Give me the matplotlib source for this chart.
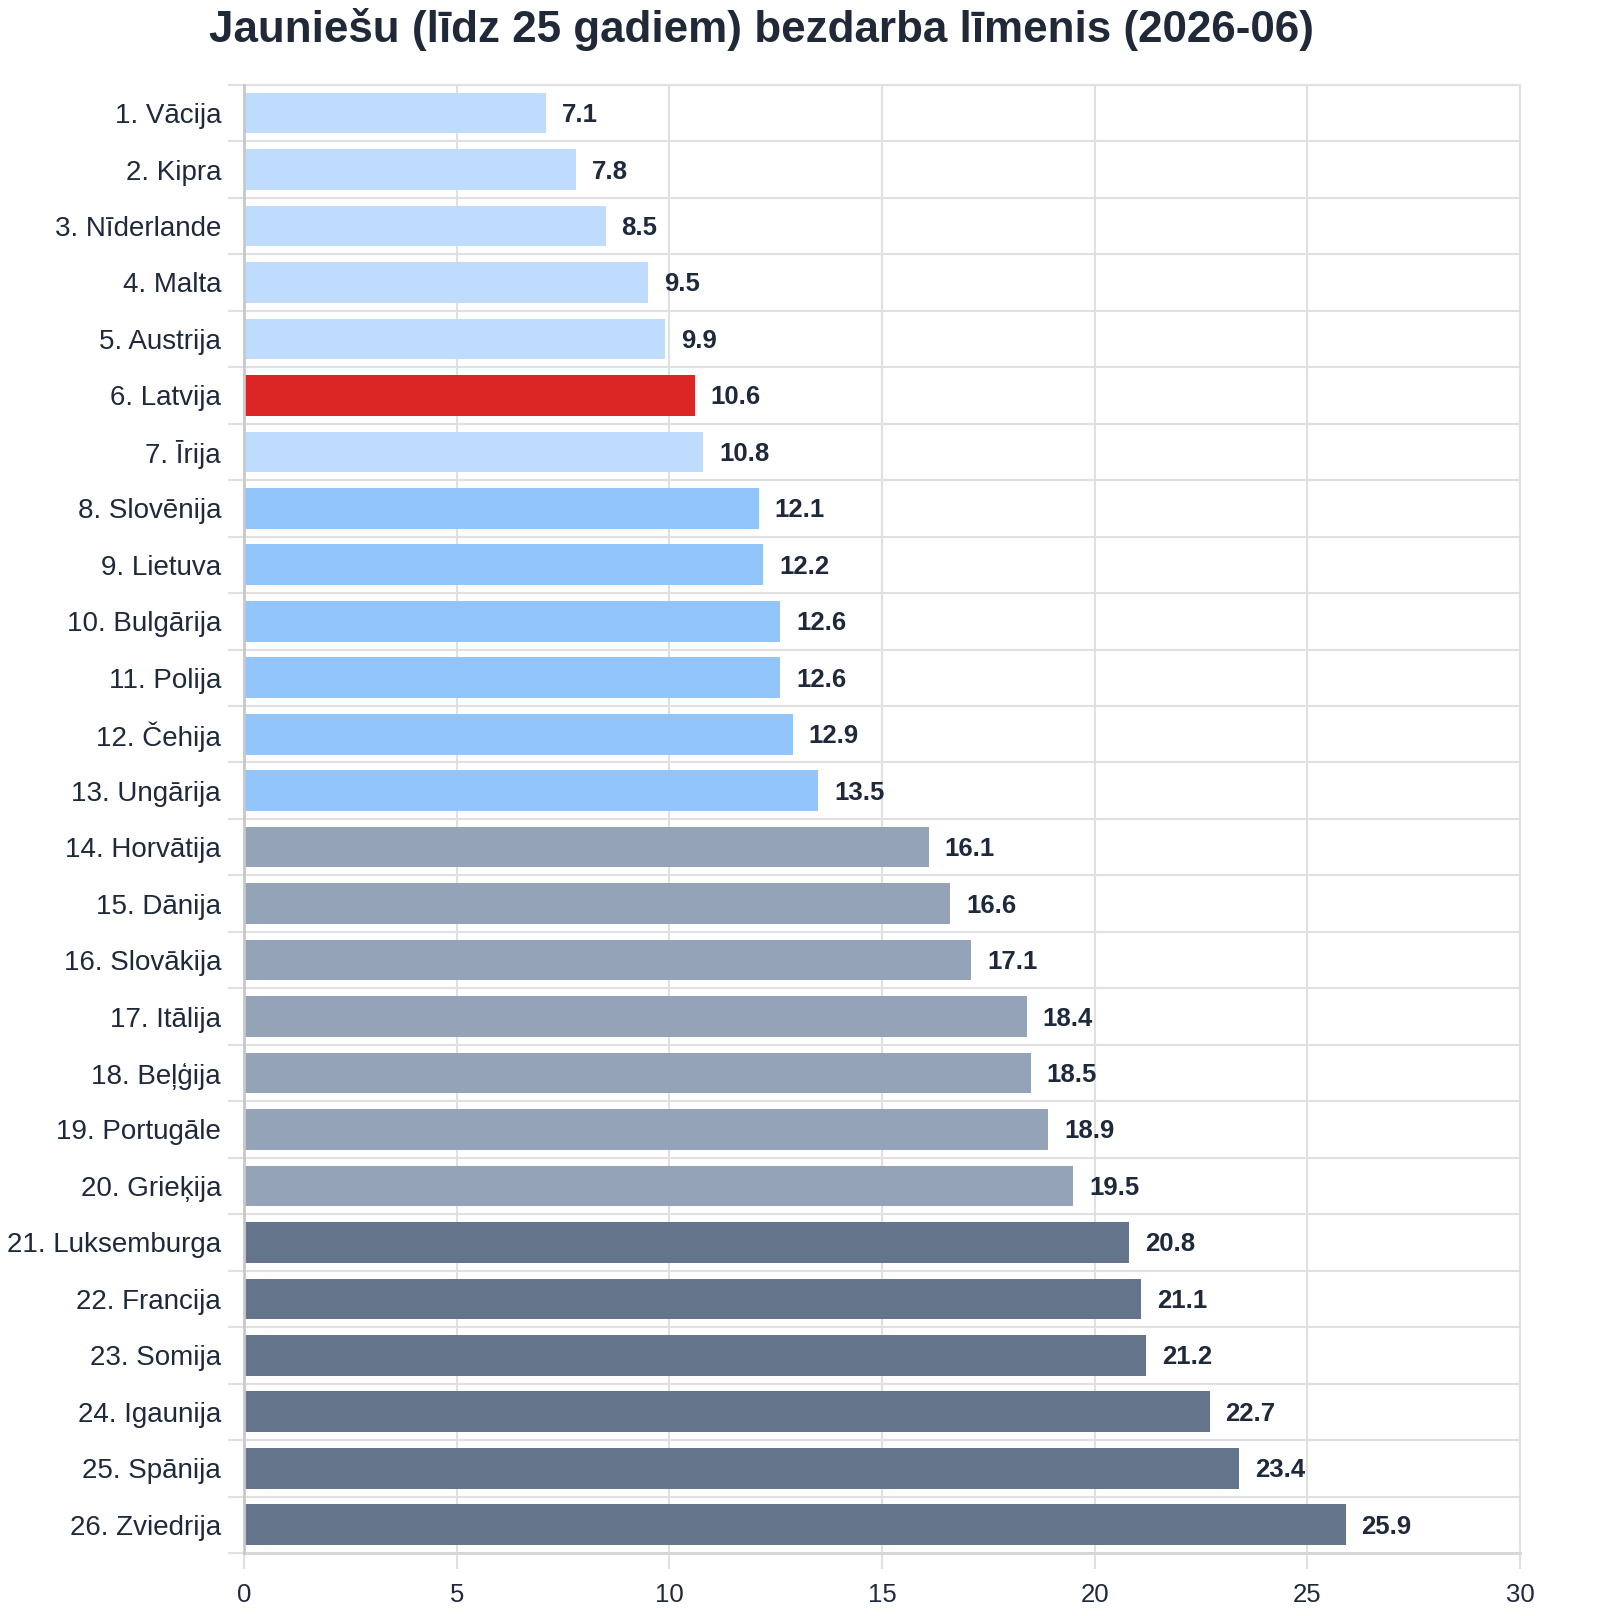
import numpy as np
from matplotlib import pyplot as plt

countries = [
    'Vācija', 'Kipra', 'Nīderlande', 'Malta', 'Austrija', 'Latvija', 'Īrija',
    'Slovēnija', 'Lietuva', 'Bulgārija', 'Polija', 'Čehija', 'Ungārija',
    'Horvātija', 'Dānija', 'Slovākija', 'Itālija', 'Beļģija', 'Portugāle',
    'Grieķija', 'Luksemburga', 'Francija', 'Somija', 'Igaunija', 'Spānija',
    'Zviedrija',
]
rates = [
    7.1, 7.8, 8.5, 9.5, 9.9, 10.6, 10.8, 12.1, 12.2, 12.6, 12.6, 12.9, 13.5,
    16.1, 16.6, 17.1, 18.4, 18.5, 18.9, 19.5, 20.8, 21.1, 21.2, 22.7, 23.4,
    25.9,
]
highlight = 'Latvija'
x_ticks = [0, 5, 10, 15, 20, 25, 30]

TEXT = '#1e293b'
GRID = '#e0e0e0'


def bar_color(rank, name):
    if name == highlight:
        return '#dc2626'
    if rank <= 7:
        return '#bfdbfe'
    if rank <= 13:
        return '#93c5fd'
    if rank <= 20:
        return '#94a3b8'
    return '#64748b'


plt.rcParams['font.family'] = ['Liberation Sans', 'DejaVu Sans']

fig = plt.figure(figsize=(16, 16.16), dpi=100)
ax = fig.add_axes([0.1525, 0.039, 0.7975, 0.9085])

yy = np.arange(len(countries))
colors = [bar_color(i + 1, c) for i, c in enumerate(countries)]
ax.barh(yy, rates, height=0.72, color=colors, zorder=2)

for y, v in zip(yy, rates):
    ax.annotate(f'{v}', (v, y), xytext=(16, -2), textcoords='offset pixels',
                va='center', ha='left', fontsize=18.5, fontweight='bold',
                color=TEXT)

ax.set_xlim(0, 30)
ax.set_ylim(len(countries) - 0.5, -0.5)
ax.set_xticks(x_ticks)
ax.set_xticklabels([str(t) for t in x_ticks], fontsize=18.5, color=TEXT)
ax.set_yticks(yy)
ax.set_yticklabels([f'{i + 1}. {c}' for i, c in enumerate(countries)],
                   fontsize=20, color=TEXT)
ax.set_yticks(np.arange(len(countries) + 1) - 0.5, minor=True)

ax.tick_params(axis='y', which='major', length=0, pad=16.5)
ax.tick_params(axis='y', which='minor', length=11.5, width=1.5, color=GRID)
ax.tick_params(axis='x', which='major', length=11.5, width=1.5, color=GRID,
               pad=10)
ax.grid(axis='x', which='major', color=GRID, linewidth=1.5, zorder=0)
ax.grid(axis='y', which='minor', color=GRID, linewidth=1.5, zorder=0)
ax.set_axisbelow(True)

for side in ['top', 'right']:
    ax.spines[side].set_color(GRID)
    ax.spines[side].set_linewidth(1.5)
ax.spines['bottom'].set_color('#d6d6d6')
ax.spines['bottom'].set_linewidth(2)
ax.spines['left'].set_color('#c8c8c8')
ax.spines['left'].set_linewidth(2)
ax.spines['left'].set_zorder(3)

fig.text(0.476, 0.982, 'Jauniešu (līdz 25 gadiem) bezdarba līmenis (2026-06)',
         ha='center', va='center', fontsize=31.7, fontweight='bold',
         color='#1f2937')

plt.savefig('out.png')
